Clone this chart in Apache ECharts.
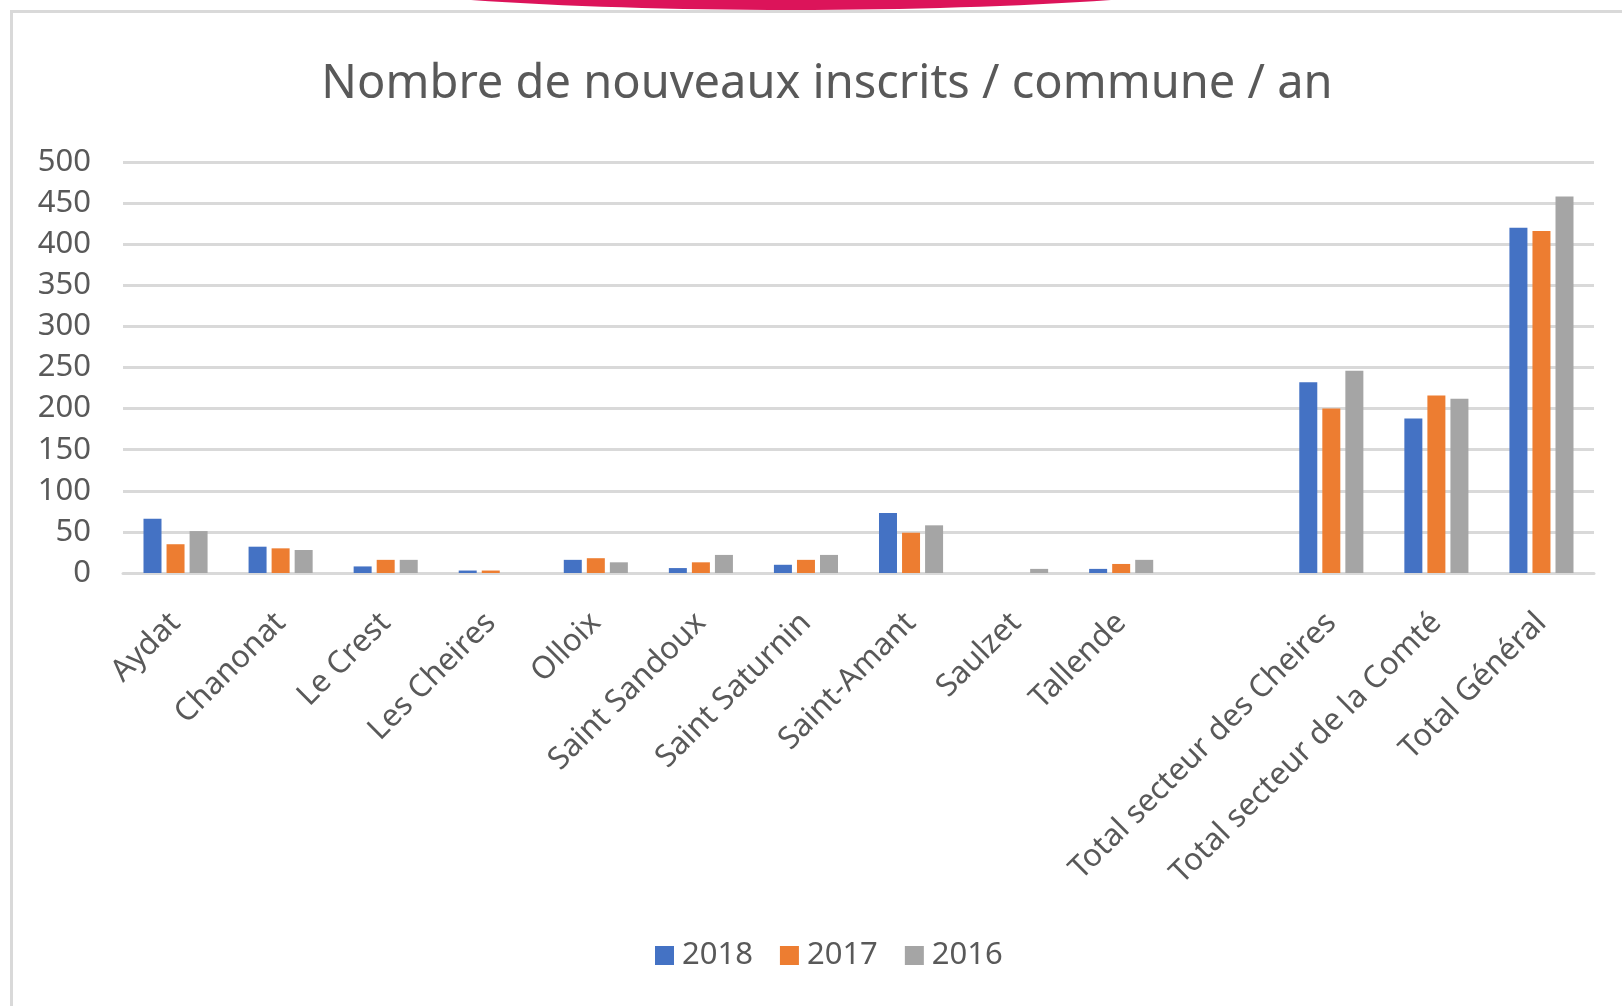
<!DOCTYPE html>
<html>
<head>
<meta charset="utf-8">
<script src="https://cdn.jsdelivr.net/npm/echarts@6/dist/echarts.min.js"></script>
<style>
html,body{margin:0;padding:0;background:#fff;}
#chart{width:1622px;height:1006px;}
</style>
</head>
<body>
<div id="chart"></div>
<script>
const categories = ["Aydat","Chanonat","Le Crest","Les Cheires","Olloix","Saint Sandoux","Saint Saturnin","Saint-Amant","Saulzet","Tallende","","Total secteur des Cheires","Total secteur de la Comté","Total Général"];
const values2018 = [66,32,8,3,16,6,10,73,0,5,null,232,188,420];
const values2017 = [35,30,16,3,18,13,16,49,0,11,null,200,216,416];
const values2016 = [51,28,16,0,13,22,22,58,5,16,null,246,212,458];
const seriesNames = ["2018","2017","2016"];
const seriesColors = ["#4472C4","#ED7D31","#A5A5A5"];
const yTicks = {min:0, max:500, interval:50};

const FONT = "Noto Sans";
const TXT = "#595959";
const chart = echarts.init(document.getElementById('chart'));
const allValues = [values2018, values2017, values2016];
chart.setOption({
  animation:false,
  backgroundColor:'#ffffff',
  title:{
    text:'Nombre de nouveaux inscrits / commune / an',
    left:822, top:80, textAlign:'center', textVerticalAlign:'middle',
    textStyle:{fontFamily:FONT, fontSize:47, fontWeight:'normal', color:TXT}
  },
  legend:{
    data:seriesNames,
    left:650, top:935,
    icon:'rect', itemWidth:19, itemHeight:19, itemGap:27,
    textStyle:{fontFamily:FONT, fontSize:31, color:TXT, padding:[0,0,0,3]}
  },
  grid:{left:123, right:28, top:162, bottom:433},
  xAxis:{
    type:'category', data:categories,
    axisLine:{lineStyle:{color:'#d9d9d9', width:3}},
    axisTick:{show:false},
    axisLabel:{interval:0, rotate:45, margin:45, fontFamily:FONT, fontSize:31, color:TXT}
  },
  yAxis:{
    type:'value', min:yTicks.min, max:yTicks.max, interval:yTicks.interval,
    axisLine:{show:false}, axisTick:{show:false},
    splitLine:{lineStyle:{color:'#d9d9d9', width:3}},
    axisLabel:{margin:32, fontFamily:FONT, fontSize:31, color:TXT}
  },
  series: seriesNames.map((n,i)=>({
    name:n, type:'bar', data:allValues[i],
    barWidth:18, barGap:'28%',
    itemStyle:{color:seriesColors[i]}
  })),
  graphic:[
    {type:'ellipse', shape:{cx:791, cy:-55, rx:600, ry:65}, style:{fill:'#DC145A'}, z:10},
    {type:'polyline', shape:{points:[[11.5,1006],[11.5,11.5],[1622,11.5]]}, style:{stroke:'#d9d9d9', lineWidth:3, fill:null}, z:11}
  ]
});
</script>
</body>
</html>
